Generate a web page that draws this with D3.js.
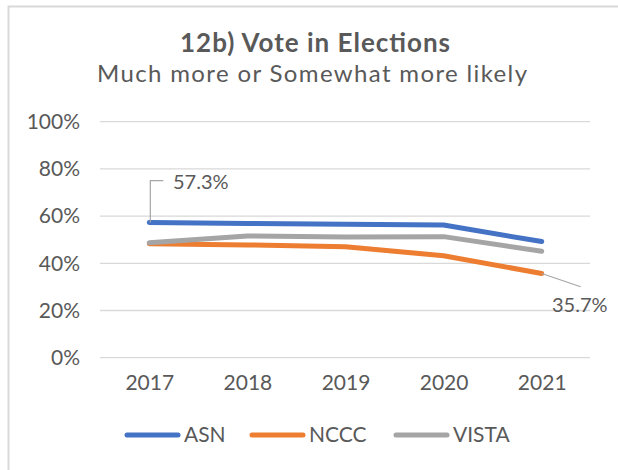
<!DOCTYPE html>
<html><head><meta charset="utf-8">
<script src="https://cdn.jsdelivr.net/npm/d3@7/dist/d3.min.js"></script>
<style>body{margin:0;background:#fff;} text{font-family:Lato,"Noto Sans",sans-serif;fill:#595959;}</style>
</head><body>
<svg id="c" width="618" height="470"></svg>
<script>
const years = ["2017","2018","2019","2020","2021"];
const asn = [0.573, 0.569, 0.565, 0.562, 0.492];
const nccc = [0.483, 0.478, 0.470, 0.432, 0.357];
const vista = [0.487, 0.516, 0.511, 0.513, 0.451];
const seriesNames = ["ASN","NCCC","VISTA"];
const seriesColors = ["#4472C4","#ED7D31","#A5A5A5"];
const yTicks = [0,0.2,0.4,0.6,0.8,1.0];

const svg = d3.select("#c");
function fitTo(sel, target){
  sel.each(function(){
    const w = this.getComputedTextLength();
    if (target > w) d3.select(this).attr("textLength", target).attr("lengthAdjust","spacing");
  });
}

svg.append("path").attr("d","M8.5,470 L8.5,6.5 L618,6.5").attr("fill","none").attr("stroke","#d9d9d9").attr("stroke-width",2);

const x = d3.scalePoint().domain(years).range([149.3,541.7]);
const y = d3.scaleLinear().domain([0,1]).range([357.7,121.7]);

svg.append("g").selectAll("line").data(yTicks).join("line")
  .attr("x1",100).attr("x2",590).attr("y1",d=>y(d)).attr("y2",d=>y(d))
  .attr("stroke","#d9d9d9").attr("stroke-width",1.3);

const yAxis = d3.axisLeft(y).tickValues(yTicks).tickFormat(d3.format(".0%")).tickSize(0).tickPadding(0);
const ga = svg.append("g").attr("transform","translate(80,0)").call(yAxis);
ga.select(".domain").remove();
ga.selectAll("text").style("font-size","21px").style("font-family","Lato").attr("fill","#595959");

const xAxis = d3.axisBottom(x).tickSize(0).tickPadding(0);
const gx = svg.append("g").attr("transform","translate(0,375)").call(xAxis);
gx.select(".domain").remove();
gx.selectAll("text").style("font-size","21px").style("font-family","Lato").attr("fill","#595959");

const data = [asn, nccc, vista];
const line = d3.line().x((d,i)=>x(years[i])).y(d=>y(d));
data.forEach((s,k)=>{
  svg.append("path").datum(s).attr("d",line).attr("fill","none")
    .attr("stroke",seriesColors[k]).attr("stroke-width",5).attr("stroke-linecap","round").attr("stroke-linejoin","round");
});

const p1 = [x(years[0]), y(asn[0])];
svg.append("path").attr("d",`M${p1[0]+1},${p1[1]} L${p1[0]+1},180.7 L163.3,180.7`).attr("fill","none").attr("stroke","#a6a6a6").attr("stroke-width",1.2);
svg.append("text").attr("x",173).attr("y",182).attr("dy","0.35em").style("font-size","20px").text(d3.format(".1%")(asn[0]));
const p2 = [x(years[4]), y(nccc[4])];
svg.append("path").attr("d",`M${p2[0]},${p2[1]} L580.7,286.7`).attr("fill","none").attr("stroke","#a6a6a6").attr("stroke-width",1.2);
svg.append("text").attr("x",552).attr("y",305).attr("dy","0.35em").style("font-size","20px").text(d3.format(".1%")(nccc[4]));

svg.append("text").attr("x",315).attr("y",51.5).attr("text-anchor","middle")
  .style("font-size","26px").style("font-weight","bold").text("12b) Vote in Elections").call(fitTo,270);
svg.append("text").attr("x",312).attr("y",81.5).attr("text-anchor","middle")
  .style("font-size","24px").text("Much more or Somewhat more likely").call(fitTo,430);

const legX = [125, 250, 394];
seriesNames.forEach((n,k)=>{
  svg.append("line").attr("x1",legX[k]+2).attr("x2",legX[k]+53).attr("y1",435).attr("y2",435)
    .attr("stroke",seriesColors[k]).attr("stroke-width",5).attr("stroke-linecap","round");
  svg.append("text").attr("x",legX[k]+59).attr("y",435).attr("dy","0.35em").style("font-size","21px").text(n);
});
</script>
</body></html>
